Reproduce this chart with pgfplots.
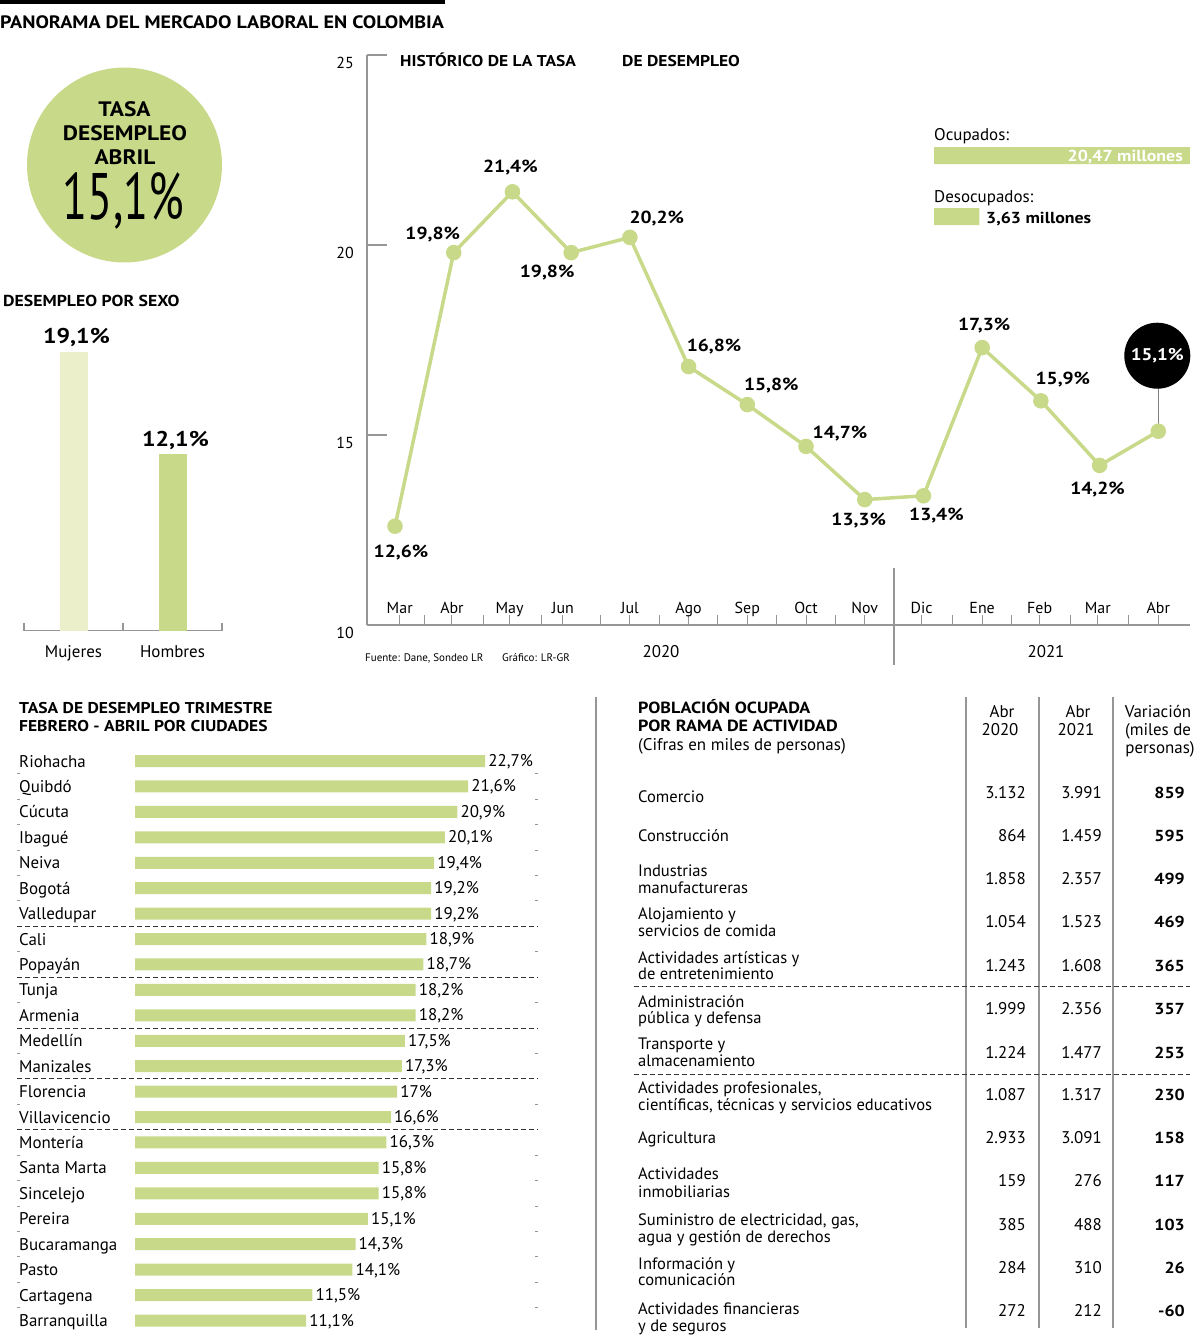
\documentclass[border=0pt]{standalone}
\usepackage{fontspec}
\setmainfont{PT Sans}
\newfontfamily\bff{PT Sans}[FakeStretch=1.12]
\usepackage{pgfplots}
\pgfplotsset{compat=1.18}
\usepackage{pgfplotstable}
\definecolor{vg}{RGB}{200,218,138}
\definecolor{vgl}{RGB}{236,240,202}
\definecolor{gl}{RGB}{150,150,150}
\newcommand{\fs}[1]{\fontsize{#1}{#1}\selectfont}
\newcommand{\bs}[1]{\bff\bfseries\fontsize{#1}{#1}\selectfont}
\tikzset{lbl/.style={font=\bs{17.5}, anchor=center, inner sep=0pt}}

\pgfplotstableread{
val idx lab
22.7 0 22,7
21.6 -1 21,6
20.9 -2 20,9
20.1 -3 20,1
19.4 -4 19,4
19.2 -5 19,2
19.2 -6 19,2
18.9 -7 18,9
18.7 -8 18,7
18.2 -9 18,2
18.2 -10 18,2
17.5 -11 17,5
17.3 -12 17,3
17.0 -13 17
16.6 -14 16,6
16.3 -15 16,3
15.8 -16 15,8
15.8 -17 15,8
15.1 -18 15,1
14.3 -19 14,3
14.1 -20 14,1
11.5 -21 11,5
11.1 -22 11,1
}\ciudades

\pgfplotstableread{
x y
0 12.6
1 19.8
2 21.4
3 19.8
4 20.2
5 16.8
6 15.8
7 14.7
8 13.3
9 13.4
10 17.3
11 15.9
12 14.2
13 15.1
}\tasa

\begin{document}
\begin{tikzpicture}
\path[use as bounding box] (0,0) rectangle (1200bp,-1337bp);

% ---------- main line chart ----------
\begin{axis}[at={(367bp,-625bp)}, anchor=south west, scale only axis,
  width=823bp, height=570bp,
  xmin=-0.477, xmax=13.54, ymin=10, ymax=25,
  axis x line*=bottom, axis y line*=left,
  axis line style={gl, line width=1.2bp, -},
  ytick={10,15,20,25}, yticklabels={10,15,20,25},
  yticklabel style={font=\fs{16}, anchor=east, inner sep=0pt, xshift=-13bp, yshift=-7.5bp},
  xtick={0.5,1.5,2.5,3.5,4.5,5.5,6.5,7.5,9.5,10.5,11.5,12.5},
  xticklabels={},
  tick align=inside,
  ytick style={gl, line width=1.2bp, /pgfplots/major tick length=20bp},
  xtick style={gl, line width=1bp, /pgfplots/major tick length=10bp},
  extra x ticks={0.08,0.97,1.95,2.86,4,5,6,7,8,8.97,10,10.98,11.97,13},
  extra x tick labels={Mar,Abr,May,Jun,Jul,Ago,Sep,Oct,Nov,Dic,Ene,Feb,Mar,Abr},
  extra x tick style={/pgfplots/major tick length=0pt, xticklabel style={font=\fs{16}, anchor=base, yshift=12bp}},
  clip=false,
]
\draw[gl, line width=1.2bp] ([yshift=57bp]axis cs:8.5,10) -- ([yshift=-40bp]axis cs:8.5,10);
\draw[gray, line width=1bp] (axis cs:13,15.1) -- ([yshift=43bp]axis cs:13,15.1);
\addplot[vg, line width=3.5bp, mark=*, mark size=6bp, mark options={fill=vg, draw=none}] table[x=x,y=y]{\tasa};
\node[lbl, xshift=6bp, yshift=-26bp] at (axis cs:0,12.6) {12,6\%};
\node[lbl, xshift=-21bp, yshift=18bp] at (axis cs:1,19.8) {19,8\%};
\node[lbl, xshift=-2bp, yshift=24bp] at (axis cs:2,21.4) {21,4\%};
\node[lbl, xshift=-24bp, yshift=-20bp] at (axis cs:3,19.8) {19,8\%};
\node[lbl, xshift=27bp, yshift=19bp] at (axis cs:4,20.2) {20,2\%};
\node[lbl, xshift=25.5bp, yshift=20bp] at (axis cs:5,16.8) {16,8\%};
\node[lbl, xshift=24bp, yshift=19bp] at (axis cs:6,15.8) {15,8\%};
\node[lbl, xshift=34bp, yshift=13bp] at (axis cs:7,14.7) {14,7\%};
\node[lbl, xshift=-6bp, yshift=-21bp] at (axis cs:8,13.3) {13,3\%};
\node[lbl, xshift=13bp, yshift=-20bp] at (axis cs:9,13.4) {13,4\%};
\node[lbl, xshift=2bp, yshift=22bp] at (axis cs:10,17.3) {17,3\%};
\node[lbl, xshift=22bp, yshift=21bp] at (axis cs:11,15.9) {15,9\%};
\node[lbl, xshift=-2bp, yshift=-24bp] at (axis cs:12,14.2) {14,2\%};
\node[circle, fill=black, minimum size=66bp, inner sep=0pt, text=white, font=\bs{17}, xshift=-1bp, yshift=75.5bp] at (axis cs:13,15.1) {15,1\%};
\end{axis}

% ---------- legend bars ----------
\begin{axis}[at={(934bp,-247bp)}, anchor=south west, scale only axis,
  width=256.25bp, height=122bp, xmin=0, xmax=20.5, ymin=-0.5, ymax=1.5,
  hide axis, clip=false]
\addplot[xbar, bar shift=0pt, bar width=17bp, fill=vg, draw=none] coordinates {(20.47,1) (3.63,0)};
\end{axis}

% ---------- sex bars ----------
\begin{axis}[at={(24bp,-630.5bp)}, anchor=south west, scale only axis,
  width=198bp, height=291.6bp, xmin=0, xmax=2, ymin=0, ymax=20,
  axis x line*=bottom, axis y line=none,
  axis line style={gl, line width=1.2bp, -},
  xtick={0,1,2}, xticklabels={}, tick align=inside,
  xtick style={gl, line width=1.2bp, /pgfplots/major tick length=8bp},
  extra x ticks={0.5,1.5}, extra x tick labels={Mujeres,Hombres},
  extra x tick style={/pgfplots/major tick length=0pt, xticklabel style={font=\fs{17}, anchor=base, yshift=-26.5bp}},
  clip=false]
\addplot[ybar, bar shift=0pt, bar width=28bp, fill=vgl, draw=none,
  nodes near coords={19,1\%},
  every node near coord/.style={font=\bs{21.4}, anchor=base, yshift=9bp, xshift=3bp, inner sep=0pt}]
  coordinates {(0.5,19.1)};
\addplot[ybar, bar shift=0pt, bar width=28bp, fill=vg, draw=none,
  nodes near coords={12,1\%},
  every node near coord/.style={font=\bs{21.4}, anchor=base, yshift=8bp, xshift=3bp, inner sep=0pt}]
  coordinates {(1.5,12.1)};
\end{axis}

% ---------- cities ----------
\begin{axis}[at={(135bp,-1333.2bp)}, anchor=south west, scale only axis,
  width=405bp, height=584.9bp, xmin=0, xmax=26.26, ymin=-22.5, ymax=0.5,
  axis line style={draw=none}, xtick=\empty,
  ytick={0,-1,...,-22},
  yticklabels={Riohacha,Quibdó,Cúcuta,Ibagué,Neiva,Bogotá,Valledupar,Cali,Popayán,Tunja,Armenia,Medellín,Manizales,Florencia,Villavicencio,Montería,Santa Marta,Sincelejo,Pereira,Bucaramanga,Pasto,Cartagena,Barranquilla},
  yticklabel style={font=\fs{17}, anchor=base west, inner sep=0pt, xshift=-116bp, yshift=-6bp},
  major tick length=0pt, clip=false]
\addplot[xbar, bar shift=0pt, bar width=12bp, fill=vg, draw=none,
  point meta=explicit symbolic,
  nodes near coords={\pgfplotspointmeta\%},
  every node near coord/.style={font=\fs{17}, anchor=base west, inner sep=0pt, xshift=3bp, yshift=-5.5bp}]
  table[x=val, y=idx, meta=lab]{\ciudades};
\end{axis}

\begin{scope}[x=1bp, y=-1bp]
% header
\fill (0,0) rectangle (445,4);
\node[anchor=base west, inner sep=0pt] at (0,28) {\bs{18}PANORAMA DEL MERCADO LABORAL EN COLOMBIA};
% circle
\fill[vg] (124.5,165) circle (97.5bp);
\node[anchor=base, inner sep=0pt] at (124.5,116.5) {\bs{21}TASA};
\node[anchor=base, inner sep=0pt] at (125,140.5) {\bs{21}DESEMPLEO};
\node[anchor=base, inner sep=0pt] at (125,164.5) {\bs{21}ABRIL};
\node[anchor=base, inner sep=0pt] at (123.5,219) {\scalebox{0.7}[1]{\fs{66}15,1\%}};
% sex title
\node[anchor=base west, inner sep=0pt] at (3,306) {\bs{15.9}DESEMPLEO POR SEXO};
% main chart texts
\node[anchor=base west, inner sep=0pt] at (400,66.5) {\bs{15.7}HISTÓRICO DE LA TASA};
\node[anchor=base west, inner sep=0pt] at (622,66.5) {\bs{15.7}DE DESEMPLEO};
\node[anchor=base west, inner sep=0pt] at (934,140) {\fs{17}Ocupados:};
\node[anchor=base east, inner sep=0pt, text=white] at (1183,161) {\bs{16}20,47 millones};
\node[anchor=base west, inner sep=0pt] at (934,202) {\fs{17}Desocupados:};
\node[anchor=base west, inner sep=0pt] at (986,223) {\bs{16}3,63 millones};
\node[anchor=base, inner sep=0pt] at (661,657) {\fs{17}2020};
\node[anchor=base, inner sep=0pt] at (1046,657) {\fs{17}2021};
\node[anchor=base west, inner sep=0pt] at (365,661) {\fs{11}Fuente: Dane, Sondeo LR};
\node[anchor=base west, inner sep=0pt] at (502,661) {\fs{11}Gráfico: LR-GR};
% cities title and separators
\node[anchor=base west, inner sep=0pt] at (19,713) {\bs{15.7}TASA DE DESEMPLEO TRIMESTRE};
\node[anchor=base west, inner sep=0pt] at (19,731) {\bs{15.7}FEBRERO - ABRIL POR CIUDADES};
\foreach \i in {6,8,10,12,14} {
  \draw[black!80, line width=1bp, dash pattern=on 5bp off 3bp] (17,{761+(\i+0.5)*25.43}) -- (538,{761+(\i+0.5)*25.43});
}
\foreach \i in {0,1,2,3,4,5,7,9,11,13,15,16,17,18,19,20,21} {
  \draw[gl, line width=1bp] (17,{761+(\i+0.5)*25.43}) -- (20,{761+(\i+0.5)*25.43});
  \draw[gl, line width=1bp] (535,{761+(\i+0.5)*25.43}) -- (538,{761+(\i+0.5)*25.43});
}
% right table
\draw[gl, line width=1.2bp] (596,697) -- (596,1330);
\foreach \x in {966,1039,1113} { \draw[gl, line width=1.2bp] (\x,697) -- (\x,1328); }
\node[anchor=base west, inner sep=0pt] at (638,713) {\bs{16.2}POBLACIÓN OCUPADA};
\node[anchor=base west, inner sep=0pt] at (638,731) {\bs{16.2}POR RAMA DE ACTIVIDAD};
\node[anchor=base west, inner sep=0pt] at (638,750) {\fs{17}(Cifras en miles de personas)};
\node[anchor=base, inner sep=0pt] at (1002,717) {\fs{17}Abr};
\node[anchor=base, inner sep=0pt] at (1000,735) {\fs{17}2020};
\node[anchor=base, inner sep=0pt] at (1078,717) {\fs{17}Abr};
\node[anchor=base, inner sep=0pt] at (1076,735) {\fs{17}2021};
\node[anchor=base, inner sep=0pt] at (1158,717) {\fs{17}Variación};
\node[anchor=base, inner sep=0pt] at (1158,735) {\fs{17}(miles de};
\node[anchor=base, inner sep=0pt] at (1160,753) {\fs{17}personas)};
\draw[black!80, line width=1bp, dash pattern=on 5bp off 3bp] (634,986) -- (1190,986);
\draw[black!80, line width=1bp, dash pattern=on 5bp off 3bp] (634,1074) -- (1190,1074);
\foreach \ya/\la/\yb/\lb/\yv/\va/\vb/\vc in {
  802/Comercio/0//798/3.132/3.991/859,
  841/Construcción/0//841/864/1.459/595,
  876/Industrias/893/manufactureras/884/1.858/2.357/499,
  919/Alojamiento y/936/servicios de comida/927/1.054/1.523/469,
  963/Actividades artísticas y/979/de entretenimiento/971/1.243/1.608/365,
  1007/Administración/1023/pública y defensa/1014/1.999/2.356/357,
  1049/Transporte y/1066/almacenamiento/1058/1.224/1.477/253,
  1093/{Actividades profesionales,}/1110/{científicas, técnicas y servicios educativos}/1100/1.087/1.317/230,
  1143/Agricultura/0//1143/2.933/3.091/158,
  1179/Actividades/1197/inmobiliarias/1186/159/276/117,
  1225/{Suministro de electricidad, gas,}/1242/agua y gestión de derechos/1230/385/488/103,
  1269/Información y/1285/comunicación/1273/284/310/26,
  1314/Actividades financieras/1331/y de seguros/1316/272/212/-60} {
  \node[anchor=base west, inner sep=0pt] at (638,\ya) {\fs{16.6}\la};
  \node[anchor=base west, inner sep=0pt] at (638,\yb) {\fs{16.6}\lb};
  \node[anchor=base east, inner sep=0pt] at (1026,\yv) {\fs{17}\va};
  \node[anchor=base east, inner sep=0pt] at (1102,\yv) {\fs{17}\vb};
  \node[anchor=base east, inner sep=0pt] at (1185,\yv) {\bs{16}\vc};
}
\end{scope}
\end{tikzpicture}
\end{document}
